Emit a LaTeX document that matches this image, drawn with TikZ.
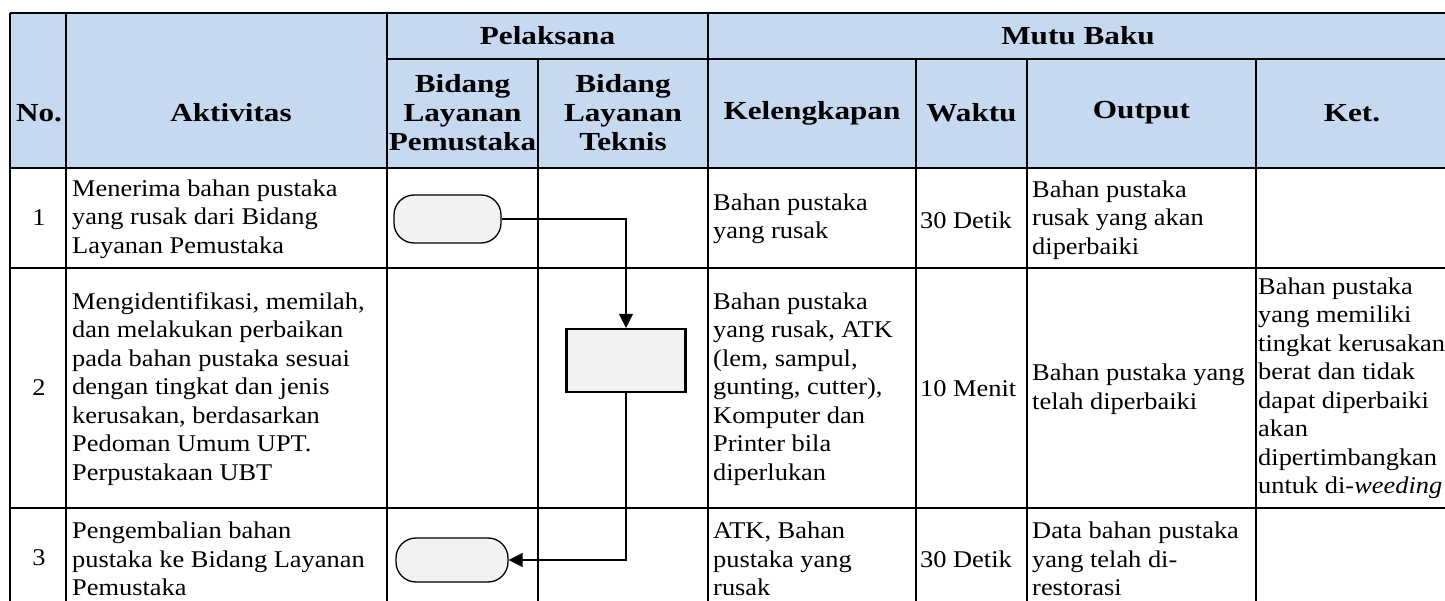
\documentclass[tikz,border=0pt]{standalone}
\usepackage{fontspec}
\setmainfont[FakeStretch=1.1]{Liberation Serif}
\newfontfamily\hdfont[FakeStretch=1.2]{Liberation Serif}
\usetikzlibrary{arrows.meta}
\definecolor{hdr}{HTML}{C6D9F0}
\definecolor{shp}{HTML}{F2F2F2}
\begin{document}
\begin{tikzpicture}[x=1pt,y=-1pt,
  txt/.style={font=\fontsize{24}{28.5}\selectfont, inner sep=0pt, align=left, anchor=west},
  num/.style={font=\fontsize{24}{28.5}\selectfont, inner sep=0pt},
  hd/.style={font=\hdfont\fontsize{26}{29}\selectfont\bfseries, inner sep=0pt, align=center},
  gridline/.style={line width=1.8pt},
  term/.style={draw, fill=shp, rounded corners=20pt, inner sep=0pt, line width=1.3pt},
  proc/.style={draw, fill=shp, inner sep=0pt, minimum width=119pt, minimum height=63pt, line width=2.2pt},
  flow/.style={line width=1.3pt, -{Triangle[length=14pt,width=14pt]}}]
\useasboundingbox (0,0) rectangle (1445,601);
\clip (0,0) rectangle (1445,601);
\fill[white] (0,0) rectangle (1445,601);
% header background
\fill[hdr] (10,12.7) rectangle (1448,168);
% grid
\draw[gridline] (10,12.7) -- (1448,12.7);
\draw[gridline] (387,59) -- (1448,59);
\draw[gridline] (10,168) -- (1448,168);
\draw[gridline] (10,268) -- (1448,268);
\draw[gridline] (10,508) -- (1448,508);
\draw[gridline] (10,12.7) -- (10,620);
\draw[gridline] (66,12.7) -- (66,620);
\draw[gridline] (387,12.7) -- (387,620);
\draw[gridline] (538,59) -- (538,620);
\draw[gridline] (708,12.7) -- (708,620);
\draw[gridline] (916,59) -- (916,620);
\draw[gridline] (1027,59) -- (1027,620);
\draw[gridline] (1256,59) -- (1256,620);
\draw[gridline] (1448,12.7) -- (1448,620);
% headers
\node[hd] (hno) at (39,113) {No.};
\node[hd] (hakt) at (231,113) {Aktivitas};
\node[hd] (hpel) at (547.5,36) {Pelaksana};
\node[hd] (hmutu) at (1078,36) {Mutu Baku};
\node[hd] (hpem) at (462.5,113) {Bidang\\Layanan\\Pemustaka};
\node[hd] (htek) at (623,113) {Bidang\\Layanan\\Teknis};
\node[hd] (hkel) at (812,113) {Kelengkapan};
\node[hd] (hwak) at (971.5,113) {Waktu};
\node[hd] (hout) at (1141.5,113) {Output};
\node[hd] (hket) at (1352,113) {Ket.};
% numbers
\node[num] (n1) at (39,218) {1};
\node[num] (n2) at (39,388) {2};
\node[num] (n3) at (39,558) {3};
% aktivitas
\node[txt] (a1) at (72,219) {Menerima bahan pustaka\\yang rusak dari Bidang\\Layanan Pemustaka};
\node[txt] (a2) at (72,389) {Mengidentifikasi, memilah,\\dan melakukan perbaikan\\pada bahan pustaka sesuai\\dengan tingkat dan jenis\\kerusakan, berdasarkan\\Pedoman Umum UPT.\\Perpustakaan UBT};
\node[txt] (a3) at (72,559) {Pengembalian bahan\\pustaka ke Bidang Layanan\\Pemustaka};
% kelengkapan
\node[txt] (k1) at (713,219) {Bahan pustaka\\yang rusak};
\node[txt] (k2) at (713,389) {Bahan pustaka\\yang rusak, ATK\\(lem, sampul,\\gunting, cutter),\\Komputer dan\\Printer bila\\diperlukan};
\node[txt] (k3) at (713,559) {ATK, Bahan\\pustaka yang\\rusak};
% waktu
\node[txt] (w1) at (920,220) {30 Detik};
\node[txt] (w2) at (920,389) {10 Menit};
\node[txt] (w3) at (920,559) {30 Detik};
% output
\node[txt] (o1) at (1032,220) {Bahan pustaka\\rusak yang akan\\diperbaiki};
\node[txt] (o2) at (1032,389) {Bahan pustaka yang\\telah diperbaiki};
\node[txt] (o3) at (1032,559) {Data bahan pustaka\\yang telah di-\\restorasi};
% ket
\node[txt] (ket2) at (1258,388) {Bahan pustaka\\yang memiliki\\tingkat kerusakan\\berat dan tidak\\dapat diperbaiki\\akan\\dipertimbangkan\\untuk di-\textit{weeding}};
% flow shapes
\node[term, minimum width=107pt, minimum height=48pt] (s1) at (447.5,219) {};
\node[proc] (p2) at (626,360.5) {};
\node[term, minimum width=112pt, minimum height=44pt] (e3) at (452,560) {};
\draw[flow] (s1.east) -| (p2.north);
\draw[flow] (p2.south) |- (e3.east);
\end{tikzpicture}
\end{document}
